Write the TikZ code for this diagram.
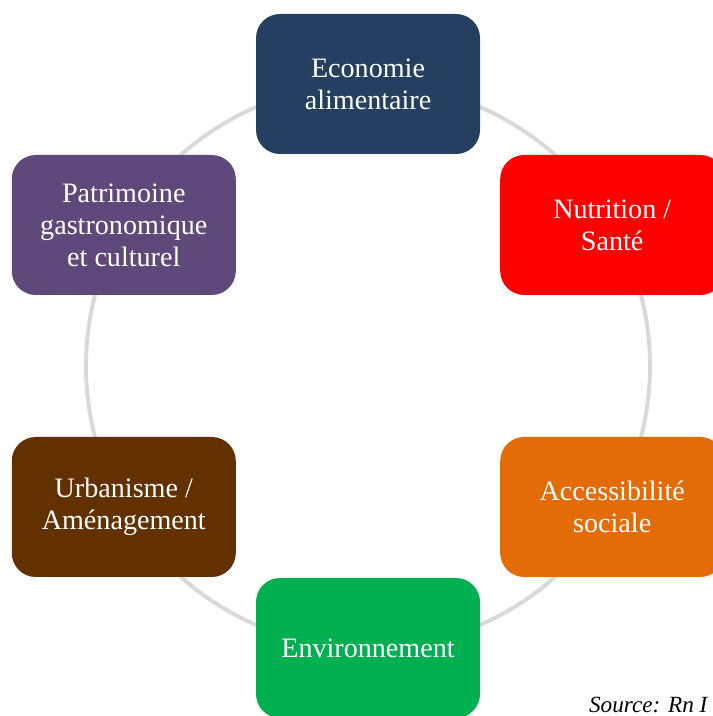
\documentclass[tikz,border=0pt]{standalone}
\usepackage{fontspec}
\setmainfont{Liberation Serif}
\definecolor{ecoblue}{HTML}{243F60}
\definecolor{nutred}{HTML}{FF0000}
\definecolor{accorange}{HTML}{E36C09}
\definecolor{envgreen}{HTML}{00B050}
\definecolor{urbbrown}{HTML}{633100}
\definecolor{patpurple}{HTML}{5F497A}
\definecolor{ringgray}{HTML}{D9D9D9}
\begin{document}
\begin{tikzpicture}[
	theme/.style={fill=#1, text=white, rounded corners=0.6cm, minimum width=5.6cm, minimum height=3.5cm, align=center, font=\fontsize{20}{22.7}\selectfont, inner sep=0pt},
	ring/.style={draw=ringgray, line width=2.8pt}]
	\useasboundingbox (0,0) rectangle (17.8,17.9);
	\coordinate (C) at (9.2,8.75);
	\draw[ring] (C) circle (7.05cm);
	\node[theme=ecoblue] (Eco) at ([shift={(90:7.05)}]C) {Economie\\alimentaire};
	\node[theme=nutred] (Nut) at ([shift={(30:7.05)}]C) {Nutrition /\\Santé};
	\node[theme=accorange] (Acc) at ([shift={(-30:7.05)}]C) {Accessibilité\\sociale};
	\node[theme=envgreen] (Env) at ([shift={(-90:7.05)}]C) {Environnement};
	\node[theme=urbbrown] (Urb) at ([shift={(-150:7.05)}]C) {Urbanisme /\\Aménagement};
	\node[theme=patpurple] (Pat) at ([shift={(150:7.05)}]C) {Patrimoine\\gastronomique\\et culturel};
	\node[anchor=base west, inner sep=0pt, font=\fontsize{16.5}{20}\selectfont\itshape] (Src) at (14.72,0.08) {Source: Rn I};
\end{tikzpicture}
\end{document}
